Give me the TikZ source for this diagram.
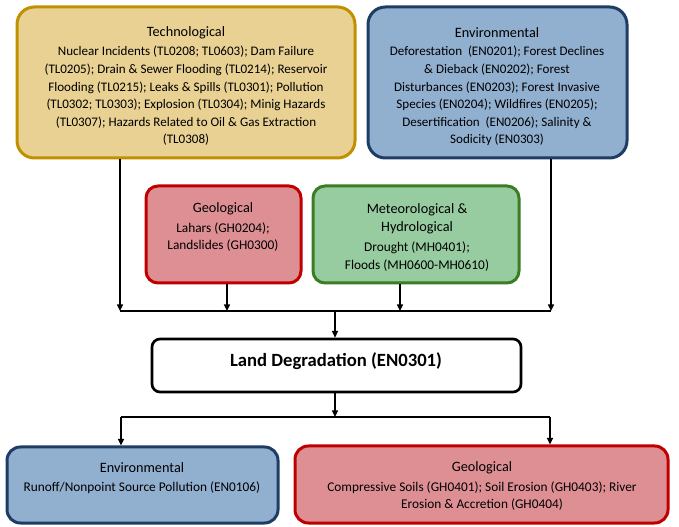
\documentclass[tikz,border=0pt]{standalone}
\usepackage{fontspec}
\setmainfont{Carlito}
\usetikzlibrary{arrows.meta,fit}
\definecolor{techfill}{HTML}{E8D193}
\definecolor{techline}{HTML}{C09000}
\definecolor{envfill}{HTML}{91AFCF}
\definecolor{envline}{HTML}{1F3D64}
\definecolor{geofill}{HTML}{DE8F94}
\definecolor{geoline}{HTML}{C00000}
\definecolor{metfill}{HTML}{97CCA0}
\definecolor{metline}{HTML}{3A7D22}
\begin{document}
\begin{tikzpicture}[x=0.75pt,y=-0.75pt,
  box/.style={draw, line width=2.25pt, inner sep=0pt, rounded corners=#1},
  techbox/.style={box=13pt, draw=techline, fill=techfill},
  envbox/.style={box=13pt, draw=envline, fill=envfill},
  geobox/.style={box=9pt, draw=geoline, fill=geofill},
  metbox/.style={box=9pt, draw=metline, fill=metfill},
  landbox/.style={box=6pt, draw=black, fill=white, line width=2pt},
  ttl/.style={inner sep=0pt, anchor=center, font=\fontsize{10.7}{13.5}\selectfont},
  body/.style={inner sep=0pt, anchor=north, align=center, font=\fontsize{10}{13.2}\selectfont},
  topbody/.style={body, font=\fontsize{9.8}{13.2}\selectfont},
  conn/.style={line width=1.1pt, draw=black},
  arr/.style={conn, -{Triangle[length=5pt,width=4.5pt]}}
]
\useasboundingbox (0,0) rectangle (679,527);

% boxes
\node[techbox, fit={(17,7) (355,158)}] (tech) {};
\node[envbox, fit={(368,7) (627,158)}] (env) {};
\node[geobox, fit={(146,186) (301,283)}] (geo) {};
\node[metbox, fit={(313,186) (519,283)}] (met) {};
\node[landbox, fit={(152,339) (521,392)}] (land) {};
\node[envbox, box=10pt, fit={(7,447) (278,523)}] (envb) {};
\node[geobox, box=10pt, fit={(295,446) (668,523)}] (geob) {};

% texts
\node[ttl] (techT) at (186,33) {Technological};
\node[topbody] (techB) at (186,46) {Nuclear Incidents (TL0208; TL0603); Dam Failure\\
(TL0205); Drain \& Sewer Flooding (TL0214); Reservoir\\
Flooding (TL0215); Leaks \& Spills (TL0301); Pollution\\
(TL0302; TL0303); Explosion (TL0304); Minig Hazards\\
(TL0307); Hazards Related to Oil \& Gas Extraction\\
(TL0308)};

\node[ttl] (envT) at (497,33) {Environmental};
\node[topbody] (envB) at (497,46) {Deforestation~ (EN0201); Forest Declines\\
\& Dieback (EN0202); Forest\\
Disturbances (EN0203); Forest Invasive\\
Species (EN0204); Wildfires (EN0205);\\
Desertification~ (EN0206); Salinity \&\\
Sodicity (EN0303)};

\node[ttl] (geoT) at (223,209) {Geological};
\node[body] (geoB) at (223,222) {Lahars (GH0204);\\ Landslides (GH0300)};

\node[ttl, align=center] (metT) at (417,219) {Meteorological \&\\ Hydrological};
\node[body] (metB) at (417,241.5) {Drought (MH0401);\\ Floods (MH0600-MH0610)};

\node[inner sep=0pt, font=\fontsize{14}{16}\selectfont\bfseries] (landT) at (336,361) {Land Degradation (EN0301)};

\node[ttl] (envbT) at (142,468) {Environmental};
\node[body] (envbB) at (142,481) {Runoff/Nonpoint Source Pollution (EN0106)};

\node[ttl] (geobT) at (482,468) {Geological};
\node[body] (geobB) at (482,481) {Compressive Soils (GH0401); Soil Erosion (GH0403); River\\ Erosion \& Accretion (GH0404)};

% connectors
\coordinate (j1) at (120,311);
\coordinate (j2) at (227,311);
\coordinate (j3) at (400,311);
\coordinate (j4) at (551,311);
\coordinate (jc) at (335,311);
\coordinate (jb) at (335,417);
\coordinate (kL) at (121,417);
\coordinate (kR) at (550,417);

\draw[arr] (j1 |- tech.south) -- (j1);
\draw[arr] (j2 |- geo.south) -- (j2);
\draw[arr] (j3 |- met.south) -- (j3);
\draw[arr] (j4 |- env.south) -- (j4);
\draw[conn] (j1) -- (j4);
\draw[arr] (jc) -- (jc |- land.north);
\draw[arr] (jb |- land.south) -- (jb);
\draw[conn] (kL) -- (kR);
\draw[arr] (kL) -- (kL |- envb.north);
\draw[arr] (kR) -- (kR |- geob.north);
\end{tikzpicture}
\end{document}
